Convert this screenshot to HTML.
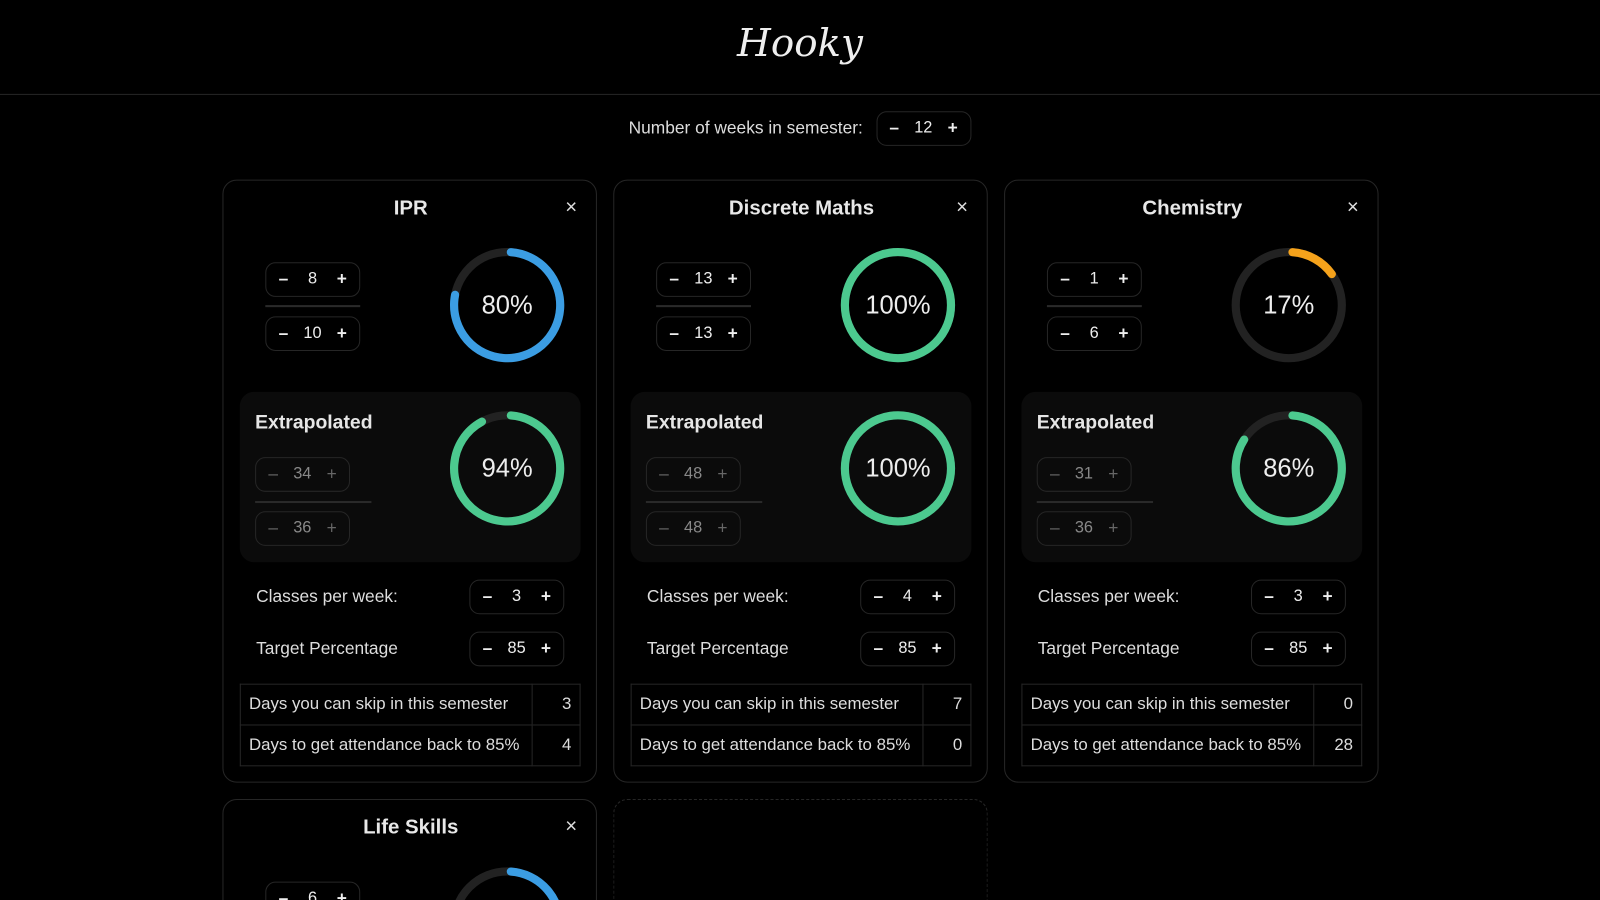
<!DOCTYPE html>
<html style="width:1600px;height:900px;overflow:hidden"><head><meta charset="utf-8"><style>
*{box-sizing:border-box;margin:0;padding:0}
body{width:1600px;height:900px;background:#000;color:#e6e6e6;font-family:"Liberation Sans",sans-serif;overflow:hidden;position:relative}
#wrap{position:absolute;left:0;top:0;width:1568px;height:882px;overflow:hidden;transform:scale(1.0204);transform-origin:0 0}
.hdr{position:absolute;left:0;top:0;width:1600px;height:93px;border-bottom:1px solid #262626}
.logo{position:absolute;left:0;width:1568px;top:20px;text-align:center;font-family:"URW Chancery L","Z003","DejaVu Serif",cursive;font-style:italic;font-size:38px;color:#eee}
.weeks{position:absolute;top:109px;left:616px;height:34px;display:flex;align-items:center;font-size:17px;color:#ddd}
.st{position:absolute;height:34px;border:1px solid #262626;border-radius:10px;display:flex;align-items:center;justify-content:space-between;padding:0 12px;font-size:16px;color:#eee}
.st b{font-weight:bold;font-size:17px}
.st.dim{color:#888}.st.dim b{font-weight:normal;color:#666}
.card{position:absolute;width:367px;height:591px;border:1px solid #262626;border-radius:14px}
.ttl{position:absolute;left:0;width:367px;top:16px;text-align:center;font-weight:bold;font-size:20px;color:#e8e8e8}
.x{position:absolute;left:335px;top:15px;font-size:20px;color:#ddd}
.div{position:absolute;height:2px;background:#2a2a2a}
.panel{position:absolute;left:16px;top:207px;width:334px;height:167px;background:#0b0b0b;border-radius:14px}
.ext{position:absolute;left:31px;top:227px;font-weight:bold;font-size:19px;color:#e6e6e6}
.lbl{position:absolute;left:32px;font-size:17px;color:#ddd}
table{position:absolute;left:16px;top:493px;width:334px;border-collapse:collapse;font-size:16.5px;color:#ddd;white-space:nowrap}
td{border:1px solid #262626;height:40px;padding:0 8px}
td.v{width:47px;text-align:right}
svg.d{position:absolute}
</style></head><body>
<div id="wrap">
<div class="hdr"><div class="logo">Hooky</div></div>
<div class="weeks"><span>Number of weeks in semester:</span>
<div class="st" style="position:relative;margin-left:13px;width:93px"><b>–</b><span>12</span><b>+</b></div></div>
<div id="cards"></div>
<div class="card" style="left:601px;top:783px;border:1px dashed #262626"></div>
</div>
<script>
const subjects=["IPR","Discrete Maths","Chemistry","Life Skills"];
const attended=[8,13,1,6];
const total=[10,13,6,8];
const extAttended=[34,48,31,0];
const extTotal=[36,48,36,0];
const classesPerWeek=[3,4,3,3];
const targetPct=[85,85,85,85];
const canSkip=[3,7,0,0];
const backTo=[4,0,28,0];
const pos=[[218,176],[601,176],[984,176],[218,783]];
function col(p){return p>=85?"#4cc98f":(p>=50?"#3b9de3":"#f5a21b")}
function donut(cx,cy,p,name){
 const r=52,C=2*Math.PI*r,len=p>=100?C:Math.max(0,p/100*C-10);
 return `<svg class="d" style="left:${cx-62}px;top:${cy-62}px" width="124" height="124"><circle cx="62" cy="62" r="${r}" fill="none" stroke="#222" stroke-width="8"/><circle cx="62" cy="62" r="${r}" fill="none" stroke="${col(p)}" stroke-width="8" stroke-linecap="round" stroke-dasharray="${len} ${C}" transform="rotate(${p>=100?-90:-86} 62 62)"/><text x="62" y="70" text-anchor="middle" font-family="Liberation Sans" font-size="25" fill="#eee">${p}%</text></svg>`;
}
const host=document.getElementById('cards');
subjects.forEach((s,i)=>{
 const c=document.createElement('div');c.className='card';
 
 
 c.style.left=pos[i][0]+'px';c.style.top=pos[i][1]+'px';
 const p=Math.round(attended[i]/total[i]*100);
 const ep=extTotal[i]?Math.round(extAttended[i]/extTotal[i]*100):0;
 c.innerHTML=`<div class="ttl">${s}</div><div class="x">×</div>
 <div class="st" style="left:41px;top:80px;width:93px"><b>–</b><span>${attended[i]}</span><b>+</b></div>
 <div class="div" style="left:41px;top:122px;width:93px"></div>
 <div class="st" style="left:41px;top:133px;width:93px"><b>–</b><span>${total[i]}</span><b>+</b></div>
 ${donut(278,122,p,'attendance-donut')}
 <div class="panel"></div>
 <div class="ext">Extrapolated</div>
 <div class="st dim" style="left:31px;top:271px;width:93px"><b>–</b><span>${extAttended[i]}</span><b>+</b></div>
 <div class="div" style="left:31px;top:314px;width:114px"></div>
 <div class="st dim" style="left:31px;top:324px;width:93px"><b>–</b><span>${extTotal[i]}</span><b>+</b></div>
 ${donut(278,282,ep,'extrapolated-donut')}
 <div class="lbl" style="top:398px">Classes per week:</div>
 <div class="st" style="left:241px;top:391px;width:93px"><b>–</b><span>${classesPerWeek[i]}</span><b>+</b></div>
 <div class="lbl" style="top:449px">Target Percentage</div>
 <div class="st" style="left:241px;top:442px;width:93px"><b>–</b><span>${targetPct[i]}</span><b>+</b></div>
 <table><tr><td>Days you can skip in this semester</td><td class="v">${canSkip[i]}</td></tr><tr><td>Days to get attendance back to ${targetPct[i]}%</td><td class="v">${backTo[i]}</td></tr></table>`;
 host.appendChild(c);
});
</script>
</body></html>
